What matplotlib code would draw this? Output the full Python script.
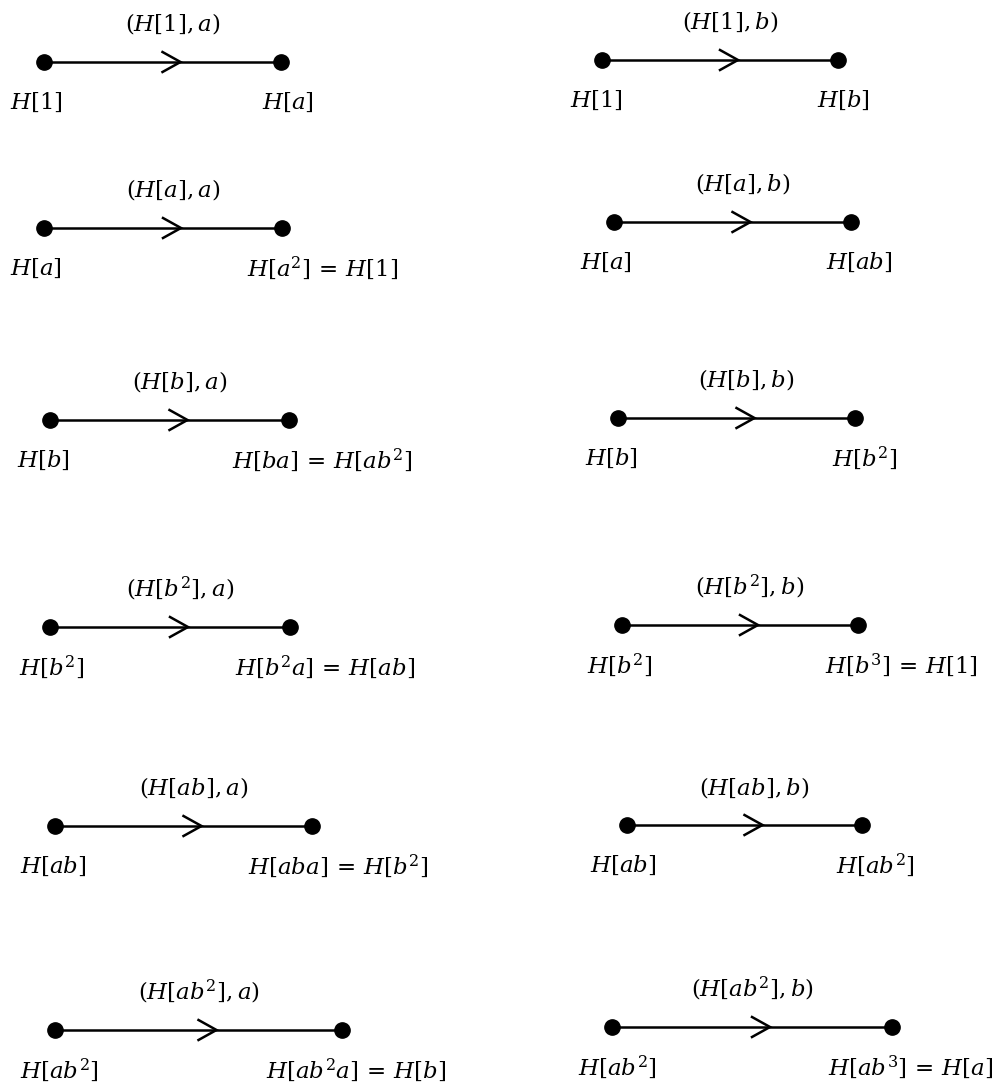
import matplotlib
matplotlib.use('Agg')
from matplotlib import pyplot as plt

plt.rcParams['mathtext.fontset'] = 'dejavuserif'

# edge labels, tail and head cosets (left column then right column)
edge_labels = [r'$(H[1],a)$', r'$(H[a],a)$', r'$(H[b],a)$', r'$(H[b^2],a)$', r'$(H[ab],a)$', r'$(H[ab^2],a)$',
               r'$(H[1],b)$', r'$(H[a],b)$', r'$(H[b],b)$', r'$(H[b^2],b)$', r'$(H[ab],b)$', r'$(H[ab^2],b)$']
tail_labels = [r'$H[1]$', r'$H[a]$', r'$H[b]$', r'$H[b^2]$', r'$H[ab]$', r'$H[ab^2]$',
               r'$H[1]$', r'$H[a]$', r'$H[b]$', r'$H[b^2]$', r'$H[ab]$', r'$H[ab^2]$']
head_labels = [r'$H[a]$', r'$H[a^2]\,=\,H[1]$', r'$H[ba]\,=\,H[ab^2]$', r'$H[b^2a]\,=\,H[ab]$',
               r'$H[aba]\,=\,H[b^2]$', r'$H[ab^2a]\,=\,H[b]$',
               r'$H[b]$', r'$H[ab]$', r'$H[b^2]$', r'$H[b^3]\,=\,H[1]$', r'$H[ab^2]$', r'$H[ab^3]\,=\,H[a]$']

# layout in pixels
x_tail = [44, 44, 50, 50, 55, 55, 602, 614, 618, 622, 627, 612]
x_head = [281, 282, 289, 290, 312, 342, 838, 851, 855, 858, 862, 892]
y_edge = [62, 228, 420, 627, 826, 1030, 60, 222, 418, 625, 825, 1027]
x_tail_lbl = [10, 10, 17, 19, 20, 20, 570, 580, 585, 587, 590, 578]
x_head_lbl = [262, 247, 232, 235, 248, 266, 817, 826, 832, 825, 836, 828]
lbl_shift = [10, 10, 10, 10, 10, 0, 10, 10, 10, 10, 10, 0]

fig = plt.figure(figsize=(10.06, 10.88), dpi=100)
ax = fig.add_axes([0, 0, 1, 1])
ax.set_xlim(0, 1006)
ax.set_ylim(1088, 0)
ax.axis('off')

fs = 16.5
for i in range(len(edge_labels)):
    x0, x1, y = x_tail[i], x_head[i], y_edge[i]
    mid = (x0 + x1) / 2
    ax.plot([x0, x1], [y, y], color='black', lw=1.8, zorder=1)
    ax.plot([mid, mid + 18, mid], [y - 10, y, y + 10], color='black', lw=1.8,
            solid_joinstyle='miter', zorder=1)
    ax.plot([x0, x1], [y, y], 'o', color='black', ms=11, zorder=2)
    ax.text(mid + lbl_shift[i], y - 38, edge_labels[i], fontsize=fs, ha='center', va='center')
    ax.text(x_tail_lbl[i], y + 40, tail_labels[i], fontsize=fs, ha='left', va='center')
    ax.text(x_head_lbl[i], y + 40, head_labels[i], fontsize=fs, ha='left', va='center')

plt.savefig('out.png', dpi=100)
